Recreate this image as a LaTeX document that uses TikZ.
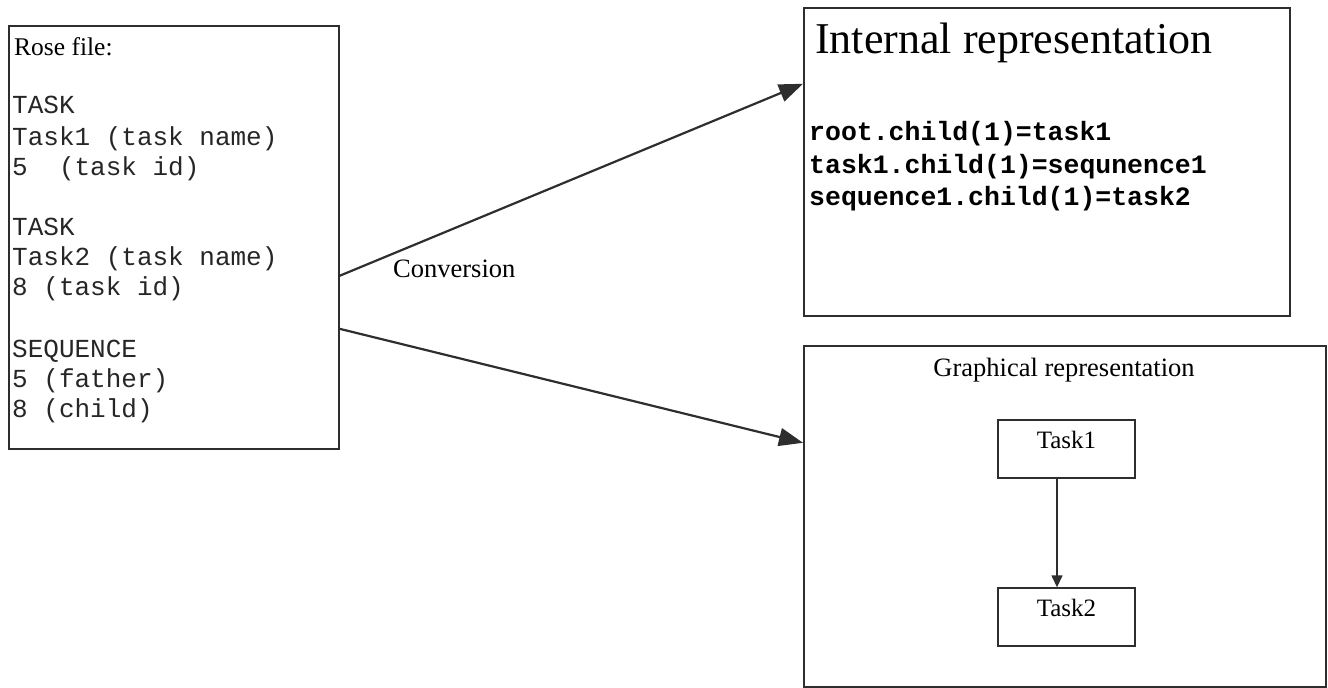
\documentclass[tikz,border=0pt]{standalone}
\usepackage{fontspec}
\setmainfont{Liberation Serif}
\setmonofont{Liberation Mono}
\usetikzlibrary{arrows.meta}
\definecolor{linegray}{HTML}{2E2E2E}
\tikzset{
  frame/.style={draw=linegray, line width=1.6pt, rectangle, inner sep=0pt, anchor=north west},
  txt/.style={inner sep=0pt, anchor=base west, text=black},
  conn/.style={draw=linegray, line width=2.2pt, -{Triangle[length=24pt,width=18pt]}},
  taskbox/.style={draw=linegray, line width=1.4pt, rectangle, minimum width=137pt, minimum height=58pt, inner sep=0pt, text height=17pt, text depth=18pt, font=\fontsize{25}{28}\selectfont},
  smallconn/.style={draw=linegray, line width=1.4pt, -{Triangle[length=12pt,width=11pt]}},
  monotext/.style={txt, font=\fontsize{26}{30}\selectfont\ttfamily, text=black!85},
  boldcode/.style={txt, font=\fontsize{26.5}{33}\selectfont\ttfamily\bfseries}
}
\begin{document}
\begin{tikzpicture}[x=1pt,y=-1pt]
\useasboundingbox (0,0) rectangle (1328,688);
% left box
\node[frame, minimum width=330pt, minimum height=423pt] (rose) at (8,25) {};
\node[txt, font=\fontsize{25.5}{28}\selectfont] (rosetitle) at (14,55) {Rose file:};
\node[monotext] (l1) at (12,113) {TASK};
\node[monotext] (l2) at (12,145) {Task1 (task name)};
\node[monotext] (l3) at (12,175) {5\ \ (task id)};
\node[monotext] (l4) at (12,235) {TASK};
\node[monotext] (l5) at (12,265) {Task2 (task name)};
\node[monotext] (l6) at (12,295) {8 (task id)};
\node[monotext] (l7) at (12,357) {SEQUENCE};
\node[monotext] (l8) at (12,387) {5 (father)};
\node[monotext] (l9) at (12,417) {8 (child)};
% internal representation box
\node[frame, minimum width=486pt, minimum height=308pt] (internal) at (803,7) {};
\node[txt, font=\fontsize{44}{48}\selectfont] (inttitle) at (815,53) {Internal representation};
\node[boldcode] (c1) at (809,140) {root.child(1)=task1};
\node[boldcode] (c2) at (809,173) {task1.child(1)=sequnence1};
\node[boldcode] (c3) at (809,205) {sequence1.child(1)=task2};
% graphical representation box
\node[frame, minimum width=522pt, minimum height=341pt] (graph) at (803,345) {};
\node[inner sep=0pt, anchor=base, font=\fontsize{26.5}{30}\selectfont] (graphtitle) at (1064,376) {Graphical representation};
\node[taskbox] (t1) at (1066.5,449) {Task1};
\node[taskbox] (t2) at (1066.5,617) {Task2};
\draw[smallconn] ([xshift=-9.5pt]t1.south) -- ([xshift=-9.5pt]t2.north);
% conversion arrows
\draw[conn] ([yshift=-38.5pt]rose.east) -- ([yshift=78pt]internal.west);
\draw[conn] ([yshift=-91.5pt]rose.east) -- ([yshift=73.5pt]graph.west);
\node[txt, font=\fontsize{26.5}{30}\selectfont] (conv) at (393,277) {Conversion};
\end{tikzpicture}
\end{document}
